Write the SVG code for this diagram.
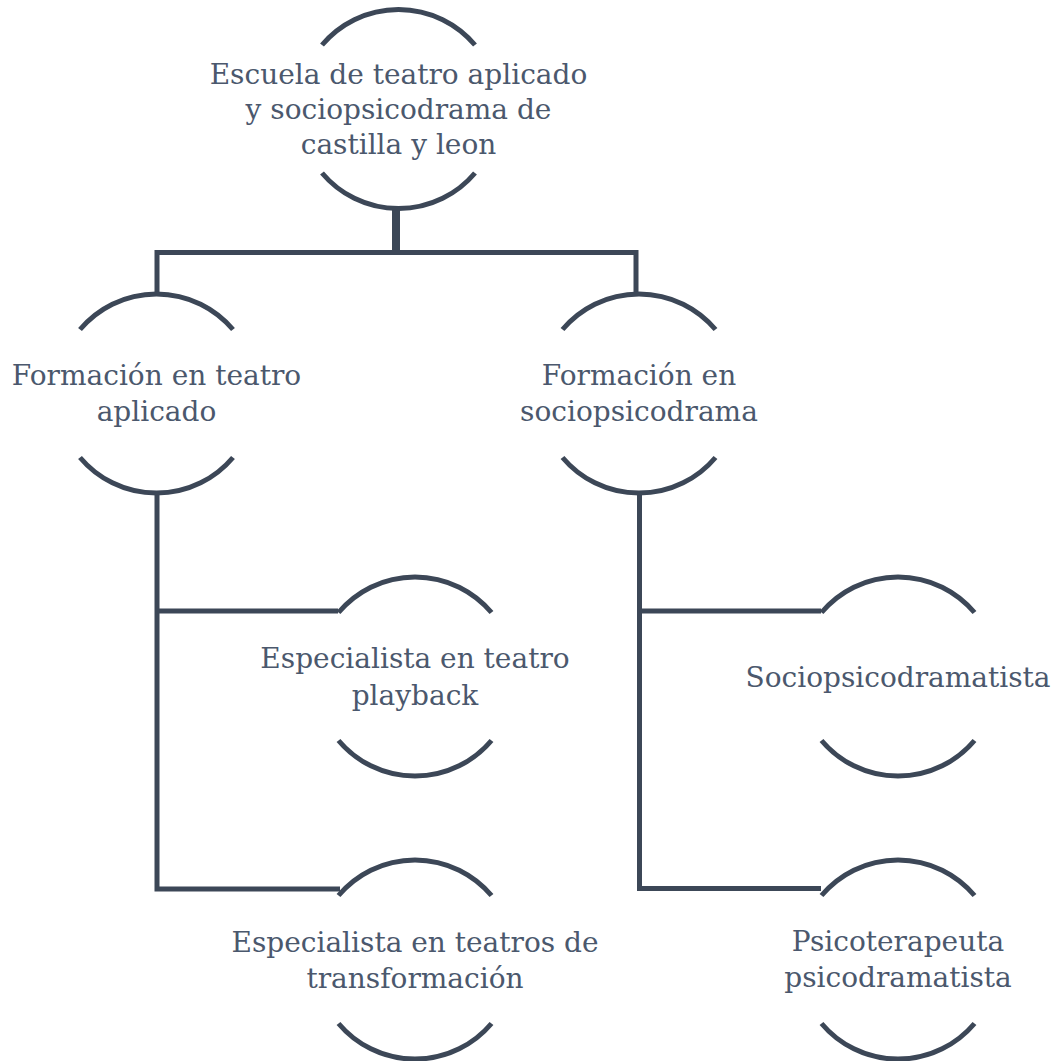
<svg xmlns="http://www.w3.org/2000/svg" width="1058" height="1061" viewBox="0 0 1058 1061">
<style>
  .arc { fill: none; stroke: #3c4757; stroke-width: 5; }
  .conn { fill: none; stroke: #3c4757; stroke-width: 5; stroke-linejoin: miter; }
  .lbl { font-family: "DejaVu Serif", "Liberation Serif", serif; font-size: 28px; fill: #4b586d; text-anchor: middle; }
</style>
<defs>
  <path id="shell" d="M -76.5 -64 A 100 100 0 0 1 76.5 -64 M -76.5 64 A 100 100 0 0 0 76.5 64"/>
</defs>
<rect width="1058" height="1061" fill="#ffffff"/>
<g id="connectors">
  <line class="conn" x1="396" y1="207" x2="396" y2="252" style="stroke-width:8"/>
  <polyline class="conn" points="157,294 157,252.5 636,252.5 636,294"/>
  <polyline class="conn" points="157,493 157,889 340,889"/>
  <line class="conn" x1="157" y1="611" x2="338" y2="611"/>
  <polyline class="conn" points="639.5,493 639.5,888.5 821,888.5"/>
  <line class="conn" x1="639.5" y1="611" x2="821" y2="611"/>
</g>
<g id="node-escuela">
  <use href="#shell" class="arc" x="398.5" y="109"/>
  <text class="lbl" x="398.5" y="83.5">Escuela de teatro aplicado</text>
  <text class="lbl" x="398.5" y="118.5">y sociopsicodrama de</text>
  <text class="lbl" x="398.5" y="153.5">castilla y leon</text>
</g>
<g id="node-formacion-teatro">
  <use href="#shell" class="arc" x="156.5" y="393.5"/>
  <text class="lbl" x="156.5" y="385">Formación en teatro</text>
  <text class="lbl" x="156.5" y="421">aplicado</text>
</g>
<g id="node-formacion-socio">
  <use href="#shell" class="arc" x="639" y="393.5"/>
  <text class="lbl" x="639" y="385">Formación en</text>
  <text class="lbl" x="639" y="421">sociopsicodrama</text>
</g>
<g id="node-playback">
  <use href="#shell" class="arc" x="415" y="676.5"/>
  <text class="lbl" x="415" y="668">Especialista en teatro</text>
  <text class="lbl" x="415" y="704.5">playback</text>
</g>
<g id="node-sociopsicodramatista">
  <use href="#shell" class="arc" x="898" y="676.5"/>
  <text class="lbl" x="898" y="686.5">Sociopsicodramatista</text>
</g>
<g id="node-transformacion">
  <use href="#shell" class="arc" x="415" y="959.5"/>
  <text class="lbl" x="415" y="951.5">Especialista en teatros de</text>
  <text class="lbl" x="415" y="988">transformación</text>
</g>
<g id="node-psicoterapeuta">
  <use href="#shell" class="arc" x="898" y="959.5"/>
  <text class="lbl" x="898" y="951">Psicoterapeuta</text>
  <text class="lbl" x="898" y="987">psicodramatista</text>
</g>
</svg>
